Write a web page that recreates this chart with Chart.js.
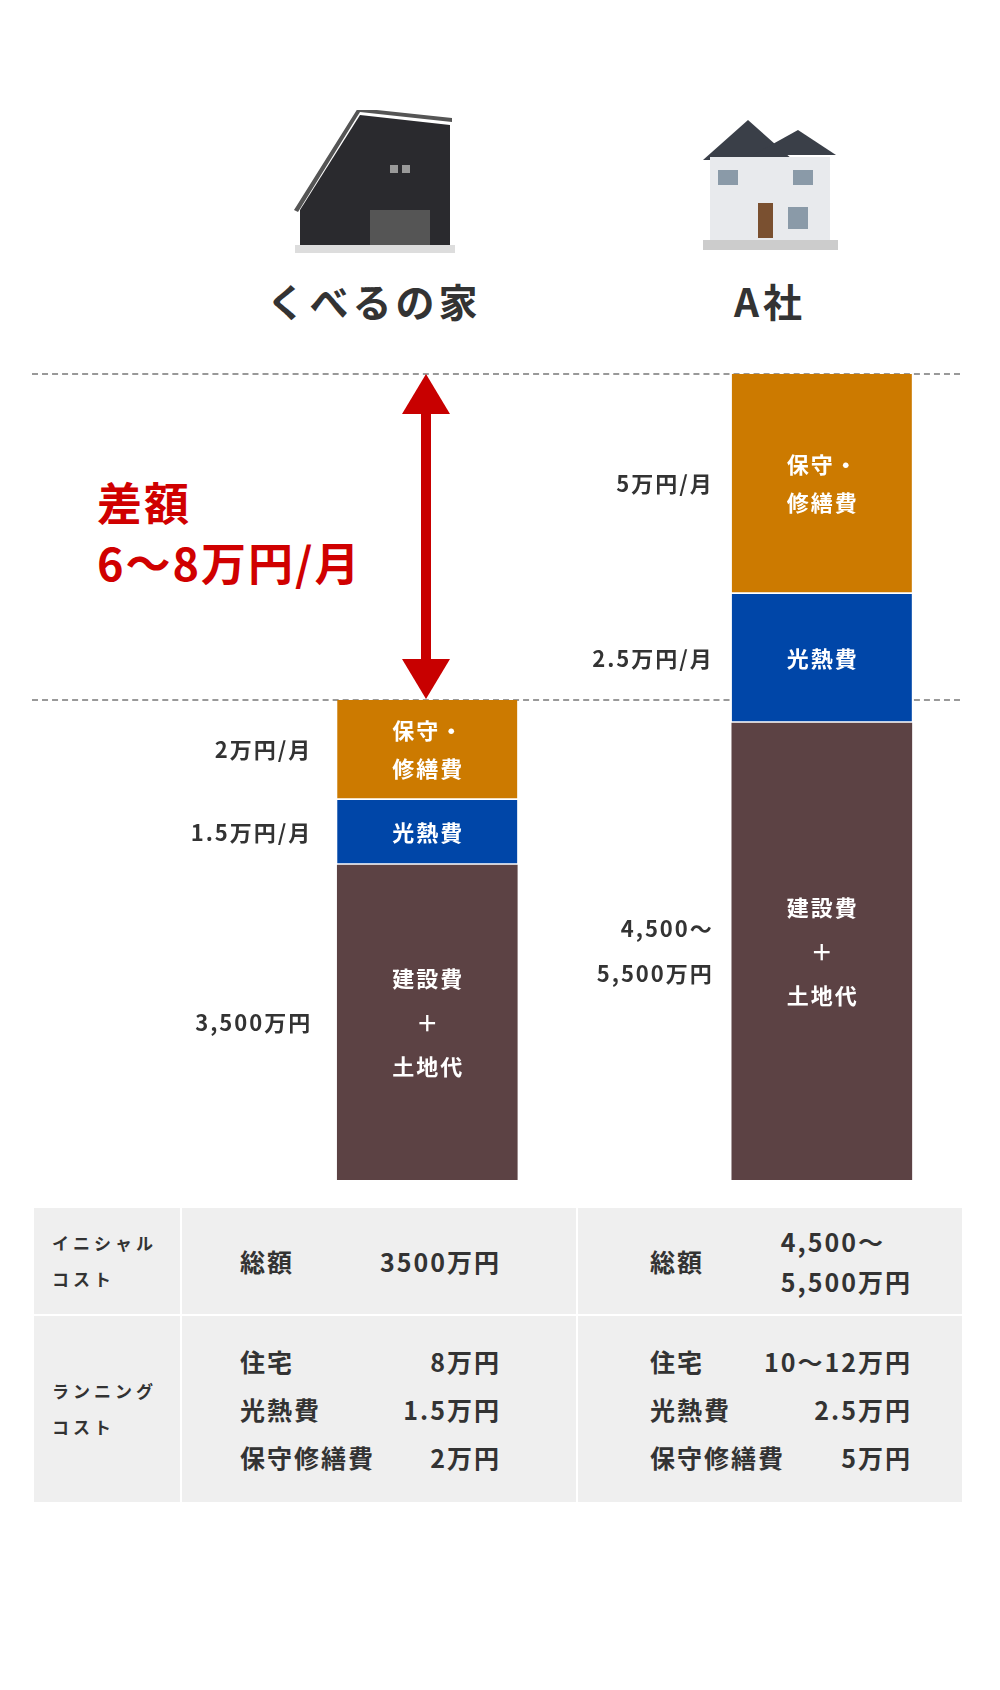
<!DOCTYPE html>
<html><head><meta charset="utf-8">
<script src="https://cdn.jsdelivr.net/npm/chart.js@4"></script>
<style>
body{margin:0;width:1000px;height:1690px;background:#fff;font-family:"Noto Sans CJK JP",sans-serif;color:#333;position:relative;overflow:hidden}
.abs{position:absolute}
.t{font-weight:bold}
#wrap{position:absolute;left:0;top:374px;width:1000px;height:806px}
table{position:absolute;left:32px;top:1206px;width:932px;height:298px;border-collapse:collapse;background:#efefef;table-layout:fixed}
td{border:2px solid #fff;font-weight:bold;vertical-align:middle}
.hd{font-size:17px;letter-spacing:4px;line-height:36px;padding-left:18px}
.r{display:flex;justify-content:space-between;font-size:25px;line-height:48px;letter-spacing:2px}
</style></head><body>
<svg class="abs" style="left:290px;top:110px" width="170" height="145">
<polygon points="10,100 70,5 160,15 160,135 10,135" fill="#2a2a2e"/>
<polygon points="8,102 70,2 162,12 162,8 68,-2 4,100" fill="#555"/>
<rect x="5" y="135" width="160" height="8" fill="#ddd"/>
<rect x="80" y="100" width="60" height="35" fill="#555"/>
<rect x="100" y="55" width="8" height="8" fill="#999"/><rect x="112" y="55" width="8" height="8" fill="#999"/>
</svg>
<svg class="abs" style="left:698px;top:115px" width="140" height="140">
<polygon points="5,45 50,5 95,45" fill="#3a3f48"/>
<polygon points="55,40 100,15 138,40" fill="#3a3f48"/>
<rect x="12" y="42" width="120" height="85" fill="#e8eaed"/>
<rect x="20" y="55" width="20" height="15" fill="#8a9aa8"/><rect x="95" y="55" width="20" height="15" fill="#8a9aa8"/>
<rect x="60" y="88" width="15" height="35" fill="#7a5030"/>
<rect x="90" y="92" width="20" height="22" fill="#8a9aa8"/>
<rect x="5" y="125" width="135" height="10" fill="#ccc"/>
</svg>
<div class="abs t" style="left:254px;top:272px;width:240px;text-align:center;font-size:39px;letter-spacing:4px">くべるの家</div>
<div class="abs t" style="left:690px;top:272px;width:160px;text-align:center;font-size:39px;letter-spacing:4px">A社</div>
<div class="abs" style="left:32px;top:373px;width:928px;border-top:2px dashed #999"></div>
<div class="abs" style="left:32px;top:699px;width:928px;border-top:2px dashed #999"></div>
<div class="abs t" style="left:97px;top:472px;font-size:45px;color:#d00000;line-height:60px;letter-spacing:2px">差額<br>6～8万円/月</div>
<svg class="abs" style="left:400px;top:374px" width="52" height="326">
<rect x="21" y="35" width="10" height="256" fill="#c80000"/>
<polygon points="26,0 50,40 2,40" fill="#c80000"/>
<polygon points="26,325 50,285 2,285" fill="#c80000"/>
</svg>
<div id="wrap"><canvas id="c"></canvas></div>
<table>
<colgroup><col style="width:148px"><col style="width:396px"><col></colgroup>
<tr style="height:108px"><td class="hd">イニシャル<br>コスト</td>
<td style="padding:0 75px 0 58px"><div class="r"><span>総額</span><span>3500万円</span></div></td>
<td style="padding:0 50px 0 72px"><div class="r" style="align-items:center"><span>総額</span><span style="line-height:40px">4,500～<br>5,500万円</span></div></td></tr>
<tr><td class="hd">ランニング<br>コスト</td>
<td style="padding:0 75px 0 58px"><div class="r"><span>住宅</span><span>8万円</span></div><div class="r"><span>光熱費</span><span>1.5万円</span></div><div class="r"><span>保守修繕費</span><span>2万円</span></div></td>
<td style="padding:0 50px 0 72px"><div class="r"><span>住宅</span><span>10～12万円</span></div><div class="r"><span>光熱費</span><span>2.5万円</span></div><div class="r"><span>保守修繕費</span><span>5万円</span></div></td></tr>
</table>
<script>
// bar positions (x centre) and segment heights as drawn in the picture
const barX = [420, 854];
const construction = [315, 457];
const utilities = [65, 129];
const maintenance = [100, 220];
const segNames = [["建設費","＋","土地代"],["光熱費"],["保守・","修繕費"]];
const sideLabels = [
  [["3,500万円"],["1.5万円/月"],["2万円/月"]],
  [["4,500～","5,500万円"],["2.5万円/月"],["5万円/月"]]
];
const colors = ["#5c4244","#0046a8","#cc7a00"];
const series = [construction, utilities, maintenance];
const labelPlugin = {
  id:"lbl",
  afterDatasetsDraw(ch){
    const ctx = ch.ctx;
    ctx.save();
    ctx.textBaseline="middle";
    ctx.font = 'bold 22px "Noto Sans CJK JP"';
    ctx.letterSpacing = "2px";
    ch.data.datasets.forEach((ds,di)=>{
      ch.getDatasetMeta(di).data.forEach((el,bi)=>{
        const cy=(el.y+el.base)/2;
        const lines=segNames[di];
        const gap = di===0?44:38;
        ctx.fillStyle="#fff";ctx.textAlign="center";
        lines.forEach((s,k)=>ctx.fillText(s,el.x+1,cy+(k-(lines.length-1)/2)*gap));
        const sl=sideLabels[bi][di];
        ctx.fillStyle="#333";ctx.textAlign="right";
        sl.forEach((s,k)=>ctx.fillText(s,el.x-115+(bi?7:0),cy+(k-(sl.length-1)/2)*45));
      });
    });
    ctx.restore();
  }
};
new Chart(document.getElementById("c"),{
  type:"bar",
  data:{datasets:series.map((v,i)=>({
    data:v.map((y,j)=>({x:barX[j],y})),
    backgroundColor:colors[i],borderColor:"#fff",
    borderWidth:i===0?0:{bottom:2},borderSkipped:false,
    barThickness:180
  }))},
  options:{responsive:true,maintainAspectRatio:false,animation:false,
    layout:{padding:0},
    plugins:{legend:{display:false},tooltip:{enabled:false}},
    scales:{x:{type:"linear",min:0,max:1000,display:false,stacked:true},
            y:{min:0,max:806,display:false,stacked:true}}},
  plugins:[labelPlugin]
});
</script>
</body></html>
